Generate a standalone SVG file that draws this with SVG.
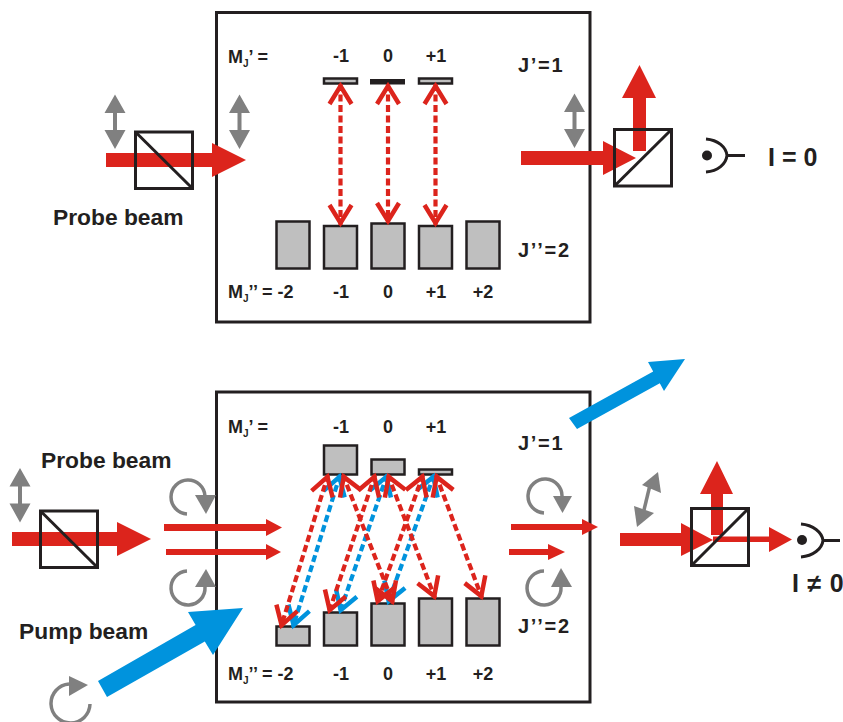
<svg xmlns="http://www.w3.org/2000/svg" width="843" height="722" viewBox="0 0 843 722">
<style>
text{font-family:"Liberation Sans",Arial,sans-serif;font-weight:700;fill:#231f20}
.s{font-size:18px}.j{font-size:20px;letter-spacing:1.7px}.b{font-size:22.8px}.i{font-size:25px}.sub{font-size:10px}
.m{text-anchor:middle}
.box{fill:none;stroke:#231f20;stroke-width:3}
.pbs{fill:none;stroke:#231f20;stroke-width:3}
.lv{fill:#bfbfbf;stroke:#231f20;stroke-width:2.5}
.red{fill:#dc241c}.blue{fill:#0093dd}.gray{fill:#808080}
.gl{fill:none;stroke:#808080;stroke-width:3.5}
.dr,.db{fill:none;stroke-width:4.2;stroke-dasharray:7 3.500}
.dr{stroke:#dc241c;marker-start:url(#hr);marker-end:url(#hr)}
.db{stroke:#0093dd;marker-start:url(#hb);marker-end:url(#hb)}
.det{fill:none;stroke:#231f20;stroke-width:3}
</style>
<defs>
<marker id="hr" markerUnits="userSpaceOnUse" markerWidth="34" markerHeight="34" refX="28" refY="15" orient="auto-start-reverse" viewBox="0 0 34 34"><path d="M8,4 L26,15 L8,26" fill="none" stroke="#dc241c" stroke-width="4.500"/></marker>
<marker id="hb" markerUnits="userSpaceOnUse" markerWidth="34" markerHeight="34" refX="28" refY="15" orient="auto-start-reverse" viewBox="0 0 34 34"><path d="M8,4 L26,15 L8,26" fill="none" stroke="#0093dd" stroke-width="4.500"/></marker>
<path id="dbl" class="gray" d="M0,-27 L10.5,-8.5 L2,-8.5 L2,8.5 L10.5,8.5 L0,27.5 L-10.5,8.5 L-2,8.5 L-2,-8.5 L-10.5,-8.5 Z"/>
</defs>

<g id="frame-top"><rect class="box" x="216.5" y="12.5" width="373.5" height="309.5"/></g>
<g id="frame-bottom"><rect class="box" x="216.5" y="392" width="373.5" height="310"/></g>

<g id="levels-top">
<rect class="lv" x="324" y="78.5" width="33" height="5"/>
<rect x="370" y="79" width="35" height="5.5" fill="#231f20"/>
<rect class="lv" x="419" y="78.5" width="33" height="5"/>
<rect class="lv" x="276.5" y="221.5" width="33" height="47"/>
<rect class="lv" x="324" y="226" width="33" height="42.5"/>
<rect class="lv" x="371.5" y="223.5" width="33" height="45"/>
<rect class="lv" x="419" y="226" width="33" height="42.5"/>
<rect class="lv" x="466.5" y="221.5" width="33" height="47"/>
</g>
<g id="levels-bottom">
<rect class="lv" x="324" y="445.5" width="33" height="29"/>
<rect class="lv" x="371.5" y="459.5" width="33" height="15"/>
<rect class="lv" x="419" y="469.5" width="33" height="5"/>
<rect class="lv" x="276.5" y="626.5" width="33" height="19"/>
<rect class="lv" x="324" y="612.5" width="33" height="33"/>
<rect class="lv" x="371.5" y="603.5" width="33" height="42"/>
<rect class="lv" x="419" y="598.5" width="33" height="47"/>
<rect class="lv" x="466.5" y="598.5" width="33" height="47"/>
</g>

<g id="connectors">
<path class="dr" d="M340.5,84 V225"/>
<path class="dr" d="M388,84 V223"/>
<path class="dr" d="M435.5,84 V225"/>
<path class="db" d="M340,475 L293,627"/>
<path class="db" d="M387,475 L340,612"/>
<path class="db" d="M434,475 L388,603"/>
<path class="dr" d="M328,475 L281,627"/>
<path class="dr" d="M375,475 L329,612"/>
<path class="dr" d="M423,475 L377,603"/>
<path class="dr" d="M343,475 L393,603"/>
<path class="dr" d="M388,475 L435,598"/>
<path class="dr" d="M436,475 L482,598"/>
</g>

<g id="probe-top-in">
<path class="red" d="M106,153 H212 V143 L246,160 L212,177 V167 H106 Z"/>
<rect class="pbs" x="135.5" y="132" width="57" height="56.5"/>
<path class="pbs" d="M135.5,132 L192.5,188.5"/>
<use href="#dbl" x="115" y="121.5"/>
<use href="#dbl" x="239.500" y="121.5"/>
</g>

<g id="probe-top-out">
<path class="red" d="M633,151 V98 H622 L639.500,65 L656,98 H646 V151 Z"/>
<path class="red" d="M521,151 H603 V141 L636,158 L603,175 V165 H521 Z"/>
<rect class="pbs" x="614.500" y="129.500" width="57" height="56.500"/>
<path class="pbs" d="M614.500,186 L671.500,129.500"/>
<use href="#dbl" x="574.500" y="120.500"/>
</g>
<g id="detector-top">
<circle cx="707" cy="155.500" r="5" fill="#231f20"/>
<path class="det" d="M706,139 C718,140 726,147 727,155.500 C726,164 718,171 706,172 M727,155.500 H745"/>
</g>

<g id="probe-bottom-in">
<path class="red" d="M12,532 H117 V522 L151,539 L117,556 V546 H12 Z"/>
<rect class="pbs" x="40.500" y="511" width="57" height="56.500"/>
<path class="pbs" d="M40.500,511 L97.500,567.500"/>
<use href="#dbl" x="20" y="495"/>
<path class="red" d="M164,524 H266 V519 L282,527.500 L266,536 V531 H164 Z"/>
<path class="red" d="M166,549 H266 V544 L281,552 L266,560 V555 H166 Z"/>
<path class="gl" d="M187,514 A17,17 0 1 1 205,496"/>
<path class="gray" d="M195,495 H216 L206,514 Z"/>
<path class="gl" d="M187,571 A17,17 0 1 0 205,587"/>
<path class="gray" d="M206,569 L216,587 H195 Z"/>
</g>

<g id="pump-in">
<path class="blue" d="M98,681 L195.600,625 L188,612 L243,608 L213,655 L204.800,641.500 L107,697 Z"/>
<path class="gl" d="M69,684 A19.500,19.500 0 1 0 90,704"/>
<path class="gray" d="M69,676 L88,685 L69,696 Z"/>
</g>

<g id="pump-out">
<path class="blue" d="M569,418 L653.200,371.500 L648,362 L685,359 L664,391 L659.800,383.300 L577,429 Z"/>
</g>

<g id="probe-bottom-out">
<path class="red" d="M511,524 H582 V519 L598,527 L582,535 V530 H511 Z"/>
<path class="red" d="M509,549 H548 V544 L565,552 L548,560 V555 H509 Z"/>
<path class="gl" d="M544,513 A17,17 0 1 1 562,497"/>
<path class="gray" d="M553,496 H572 L562.500,513 Z"/>
<path class="gl" d="M544,571 A17,17 0 1 0 561,587"/>
<path class="gray" d="M561,568 L572,587 H551 Z"/>
</g>

<g id="analyzer-bottom">
<path class="red" d="M711,535 V494 H700 L717,461 L733,494 H723 V535 Z"/>
<path class="red" d="M713,536.500 H769 V527 L792,539.500 L769,552 V542 H713 Z"/>
<path class="red" d="M620,533 H681 V523 L713,540 L681,556 V546 H620 Z"/>
<rect class="pbs" x="691.500" y="508.500" width="57" height="57"/>
<path class="pbs" d="M691.500,565.500 L748.500,508.500"/>
<path class="gl" d="M650,485 L644,510"/>
<path class="gray" d="M658,472 L661,493 L642,485 Z"/>
<path class="gray" d="M637,527 L634,506 L654,513 Z"/>
</g>
<g id="detector-bottom">
<circle cx="802" cy="540" r="5" fill="#231f20"/>
<path class="det" d="M801,524 C813,525 822,532 823,540.500 C822,549 813,556 801,557 M823,540.500 H840"/>
</g>

<g id="labels-top">
<text class="s" x="228" y="63">M<tspan class="sub" dy="4">J</tspan><tspan dy="-4">’ =</tspan></text>
<text class="s m" x="341" y="62">-1</text><text class="s m" x="388" y="62">0</text><text class="s m" x="436" y="62">+1</text>
<text class="j" x="518" y="72">J’=1</text>
<text class="j" x="518" y="257">J’’=2</text>
<text class="s" x="228" y="298">M<tspan class="sub" dy="4">J</tspan><tspan dy="-4">’’ = -2</tspan></text>
<text class="s m" x="341" y="298">-1</text><text class="s m" x="388" y="298">0</text><text class="s m" x="436" y="298">+1</text><text class="s m" x="483" y="298">+2</text>
<text class="b" x="53" y="225">Probe beam</text>
<text class="i" x="768" y="166">I = 0</text>
</g>
<g id="labels-bottom">
<text class="s" x="228" y="433">M<tspan class="sub" dy="4">J</tspan><tspan dy="-4">’ =</tspan></text>
<text class="s m" x="341" y="433">-1</text><text class="s m" x="388" y="433">0</text><text class="s m" x="436" y="433">+1</text>
<text class="j" x="518" y="450">J’=1</text>
<text class="j" x="518" y="633">J’’=2</text>
<text class="s" x="228" y="680">M<tspan class="sub" dy="4">J</tspan><tspan dy="-4">’’ = -2</tspan></text>
<text class="s m" x="341" y="680">-1</text><text class="s m" x="388" y="680">0</text><text class="s m" x="436" y="680">+1</text><text class="s m" x="483" y="680">+2</text>
<text class="b" x="41" y="468">Probe beam</text>
<text class="b" x="19" y="639">Pump beam</text>
<text class="i" x="792" y="592" letter-spacing="0.8">I ≠ 0</text>
</g>
</svg>
